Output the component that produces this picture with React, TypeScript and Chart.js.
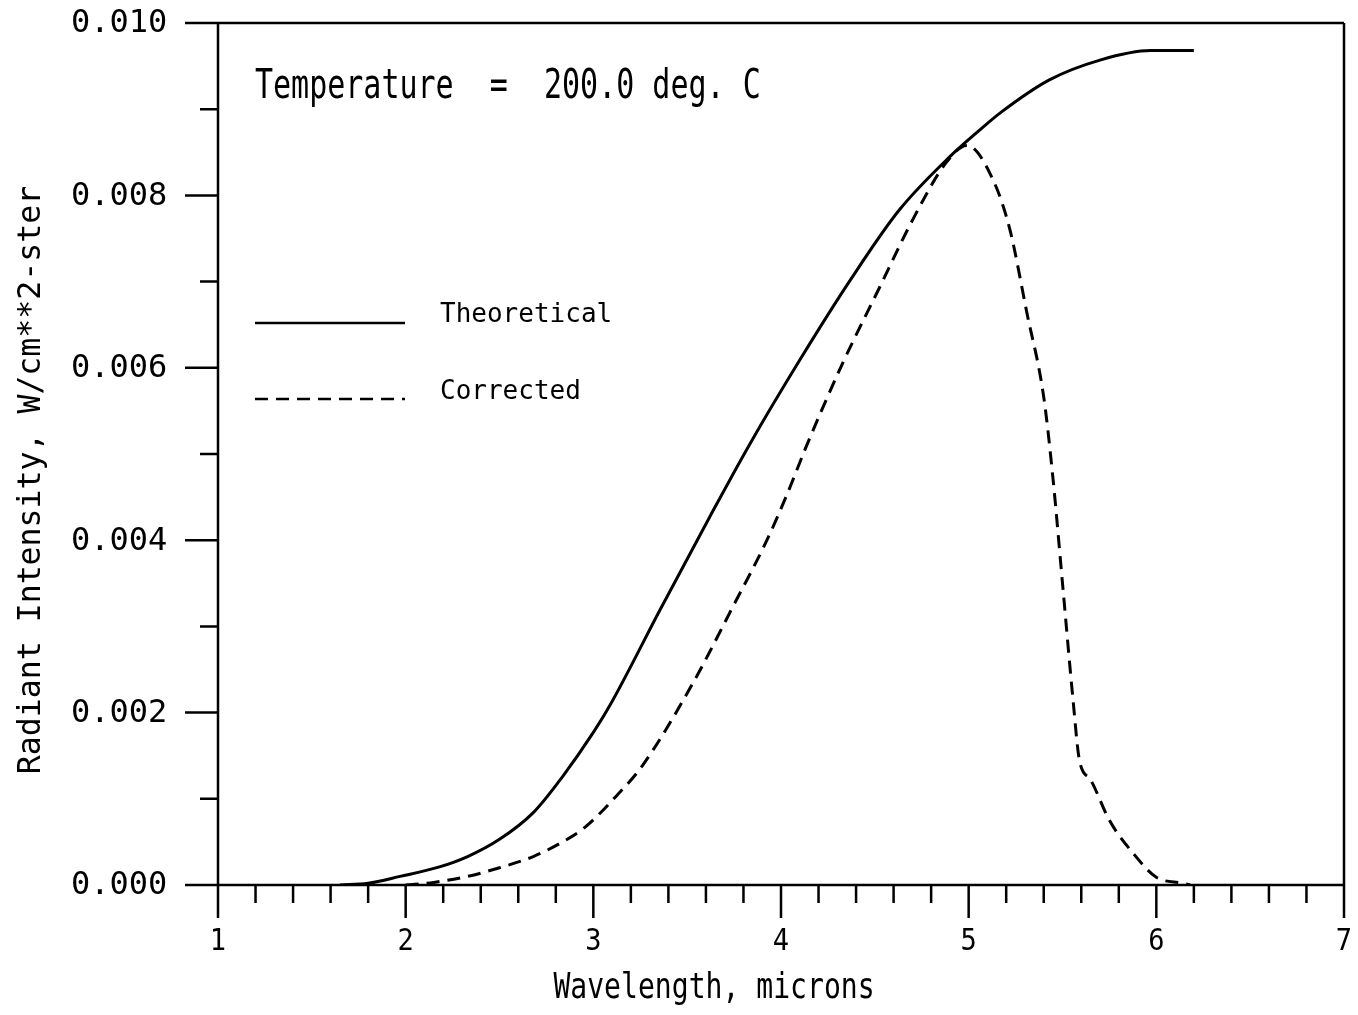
import React, { useEffect, useRef } from "react";
import { Chart, registerables } from "chart.js";

Chart.register(...registerables);

// ---- data ----
const theoX = [1.65, 1.8, 1.97, 2.18, 2.33, 2.5, 2.68, 2.84, 3.0, 3.09, 3.355, 3.62, 3.835, 4.1, 4.37, 4.63, 4.9, 5.06, 5.17, 5.43, 5.7, 5.97, 6.2];
const theoY = [0, 0.00002, 0.0001, 0.00021, 0.00033, 0.00053, 0.00084, 0.00127, 0.00177, 0.00209, 0.00319, 0.00427, 0.00512, 0.00609, 0.00702, 0.00783, 0.00845, 0.00876, 0.00896, 0.00934, 0.00957, 0.00968, 0.00968];

const corrX = [2.0, 2.15, 2.33, 2.5, 2.68, 2.82, 2.95, 3.13, 3.26, 3.53, 3.744, 3.925, 4.03, 4.137, 4.33, 4.527, 4.7, 4.88, 4.99, 5.13, 5.22, 5.31, 5.4, 5.45, 5.5, 5.556, 5.59, 5.65, 5.75, 5.876, 6.0, 6.14, 6.18];
const corrY = [0, 0.00003, 0.0001, 0.0002, 0.00033, 0.00048, 0.00066, 0.00105, 0.00138, 0.00234, 0.00323, 0.00400, 0.00452, 0.00510, 0.00606, 0.00694, 0.00771, 0.00838, 0.00858, 0.00818, 0.0076, 0.00664, 0.00566, 0.0047, 0.0035, 0.00215, 0.00145, 0.00122, 0.00075, 0.00037, 0.00009, 0.00002, 0];

const xMajorTicks = [1, 2, 3, 4, 5, 6, 7];
const xTickLabels = ["1", "2", "3", "4", "5", "6", "7"];
const xMinorTicks = [1.2, 1.4, 1.6, 1.8, 2.2, 2.4, 2.6, 2.8, 3.2, 3.4, 3.6, 3.8, 4.2, 4.4, 4.6, 4.8, 5.2, 5.4, 5.6, 5.8, 6.2, 6.4, 6.6, 6.8];
const yMajorTicks = [0, 0.002, 0.004, 0.006, 0.008, 0.01];
const yTickLabels = ["0.000", "0.002", "0.004", "0.006", "0.008", "0.010"];
const yMinorTicks = [0.001, 0.003, 0.005, 0.007, 0.009];

const seriesNames = ["Theoretical", "Corrected"];
const titleText = "Temperature  =  200.0 deg. C";
const xTitle = "Wavelength, microns";
const yTitle = "Radiant Intensity, W/cm**2-ster";

const FONT = '"DejaVu Sans Mono", monospace';

function drawText(
  ctx: CanvasRenderingContext2D,
  text: string,
  x: number,
  y: number,
  size: number,
  sx: number,
  align: CanvasTextAlign,
  rot = 0
) {
  ctx.save();
  ctx.translate(x, y);
  if (rot) ctx.rotate(rot);
  ctx.scale(sx, 1);
  ctx.font = `${size}px ${FONT}`;
  ctx.fillStyle = "#000";
  ctx.textAlign = align;
  ctx.textBaseline = "middle";
  ctx.fillText(text, 0, 0);
  ctx.restore();
}

const framePlugin = {
  id: "plotterFrame",
  afterDraw(chart: any) {
    const ctx: CanvasRenderingContext2D = chart.ctx;
    const xs = chart.scales.x;
    const ys = chart.scales.y;
    const { left, right, top, bottom } = chart.chartArea;
    ctx.save();
    ctx.strokeStyle = "#000";
    ctx.lineWidth = 2.5;
    ctx.lineCap = "butt";
    // frame
    ctx.beginPath();
    ctx.moveTo(left, top);
    ctx.lineTo(left, bottom);
    ctx.moveTo(left, top);
    ctx.lineTo(right, top);
    ctx.moveTo(right, top);
    ctx.lineTo(right, bottom);
    ctx.moveTo(left, bottom);
    ctx.lineTo(right, bottom);
    ctx.stroke();
    // y ticks
    ctx.beginPath();
    yMajorTicks.forEach((v) => {
      const py = ys.getPixelForValue(v);
      ctx.moveTo(left - 33, py);
      ctx.lineTo(left, py);
    });
    yMinorTicks.forEach((v) => {
      const py = ys.getPixelForValue(v);
      ctx.moveTo(left - 18, py);
      ctx.lineTo(left, py);
    });
    // x ticks
    xMajorTicks.forEach((v) => {
      const px = xs.getPixelForValue(v);
      ctx.moveTo(px, bottom);
      ctx.lineTo(px, bottom + 33);
    });
    xMinorTicks.forEach((v) => {
      const px = xs.getPixelForValue(v);
      ctx.moveTo(px, bottom);
      ctx.lineTo(px, bottom + 18);
    });
    ctx.stroke();

    // tick labels
    yMajorTicks.forEach((v, i) => {
      drawText(ctx, yTickLabels[i], 71, ys.getPixelForValue(v) + 1, 32, 1, "left");
    });
    xMajorTicks.forEach((v, i) => {
      drawText(ctx, xTickLabels[i], xs.getPixelForValue(v), bottom + 57, 30, 0.9, "center");
    });

    // axis titles
    drawText(ctx, xTitle, 714, bottom + 104, 36, 0.78, "center");
    drawText(ctx, yTitle, 32, 480, 32, 0.985, "center", -Math.PI / 2);

    // title
    drawText(ctx, titleText, 255, 88, 40, 0.75, "left");

    // legend
    ctx.lineWidth = 2.5;
    ctx.beginPath();
    ctx.moveTo(255, 323);
    ctx.lineTo(405, 323);
    ctx.stroke();
    ctx.setLineDash([13, 8]);
    ctx.beginPath();
    ctx.moveTo(255, 399);
    ctx.lineTo(405, 399);
    ctx.stroke();
    ctx.setLineDash([]);
    drawText(ctx, seriesNames[0], 440, 315, 26, 1, "left");
    drawText(ctx, seriesNames[1], 440, 392, 26, 1, "left");
    ctx.restore();
  },
};

export default function App() {
  const ref = useRef<HTMLCanvasElement | null>(null);
  useEffect(() => {
    document.body.style.margin = "0";
    document.body.style.overflow = "hidden";
    const canvas = ref.current;
    if (!canvas) return;
    const chart = new Chart(canvas, {
      type: "line",
      data: {
        datasets: [
          {
            label: seriesNames[0],
            data: theoX.map((x, i) => ({ x, y: theoY[i] })),
            borderColor: "#000",
            borderWidth: 3,
            pointRadius: 0,
            cubicInterpolationMode: "monotone",
            fill: false,
          },
          {
            label: seriesNames[1],
            data: corrX.map((x, i) => ({ x, y: corrY[i] })),
            borderColor: "#000",
            borderWidth: 3,
            borderDash: [13, 8],
            pointRadius: 0,
            cubicInterpolationMode: "monotone",
            fill: false,
          },
        ],
      },
      options: {
        responsive: false,
        animation: false,
        devicePixelRatio: 1,
        layout: { padding: { left: 218, top: 23, right: 14, bottom: 130 } },
        scales: {
          x: { type: "linear", min: 1, max: 7, display: false },
          y: { type: "linear", min: 0, max: 0.01, display: false },
        },
        plugins: {
          legend: { display: false },
          tooltip: { enabled: false },
        },
      },
      plugins: [framePlugin],
    } as any);
    return () => chart.destroy();
  }, []);
  return (
    <div style={{ width: 1358, height: 1015, background: "#fff" }}>
      <canvas ref={ref} width={1358} height={1015} style={{ display: "block" }} />
    </div>
  );
}
